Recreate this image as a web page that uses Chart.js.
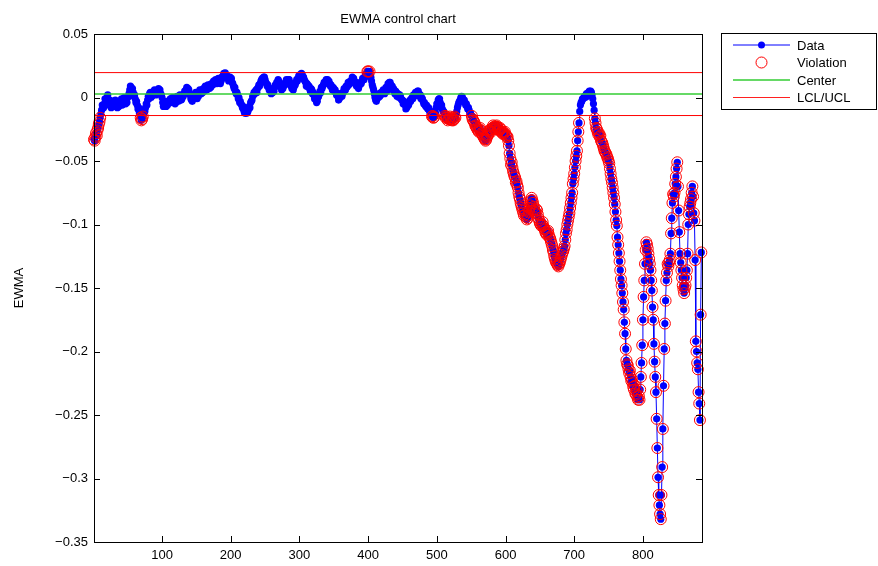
<!DOCTYPE html>
<html>
<head>
<meta charset="utf-8">
<script src="https://cdn.jsdelivr.net/npm/chart.js@4.4.1/dist/chart.umd.min.js"></script>
<style>
  html, body { margin: 0; padding: 0; background: #fff; }
  canvas { display: block; }
</style>
</head>
<body>
<canvas id="ewmaChart" width="878" height="566"></canvas>
<script>
// --- data (one value per sample, sample 1..885) ---
const ewma = [
  -0.033,-0.034,-0.031,-0.028,-0.030,-0.026,-0.024,-0.021,-0.019,-0.016,
  -0.013,-0.010,-0.006,-0.007,-0.008,-0.005,-0.001,-0.002,-0.004,0.000,
  0.002,-0.003,-0.006,-0.002,-0.005,-0.008,-0.004,-0.003,-0.007,-0.004,
  -0.006,-0.002,-0.005,-0.004,-0.008,-0.005,-0.007,-0.003,-0.006,-0.003,
  -0.001,-0.006,-0.005,-0.002,0.000,-0.001,-0.005,-0.002,-0.004,0.000,
  0.001,0.003,0.006,0.009,0.008,0.005,0.007,0.004,0.001,0.002,
  -0.001,-0.004,-0.003,-0.006,-0.009,-0.008,-0.012,-0.014,-0.016,-0.018,
  -0.017,-0.015,-0.013,-0.010,-0.011,-0.008,-0.005,-0.006,-0.002,0.001,
  -0.001,0.003,0.004,0.000,0.001,0.004,0.002,0.004,0.006,0.003,
  0.002,0.005,0.004,0.005,0.007,0.006,0.006,0.003,0.002,0.000,
  -0.004,-0.007,-0.005,-0.003,-0.004,-0.007,-0.005,-0.006,-0.003,-0.004,
  -0.002,-0.001,-0.004,-0.003,0.000,-0.002,0.000,-0.002,-0.005,-0.004,
  -0.002,0.001,-0.001,-0.003,0.000,0.002,0.001,-0.002,-0.001,0.002,
  0.001,0.003,0.005,0.004,0.006,0.008,0.005,0.007,0.006,0.003,
  0.002,-0.001,-0.002,-0.003,-0.001,0.002,0.000,0.002,0.004,0.002,
  -0.001,0.003,0.001,0.004,0.006,0.005,0.003,0.004,0.004,0.007,
  0.005,0.007,0.009,0.006,0.006,0.008,0.010,0.009,0.007,0.010,
  0.008,0.011,0.010,0.010,0.013,0.011,0.012,0.014,0.012,0.011,
  0.013,0.015,0.014,0.012,0.011,0.013,0.016,0.015,0.017,0.019,
  0.018,0.0195,0.018,0.016,0.017,0.015,0.013,0.014,0.016,0.014,
  0.015,0.012,0.011,0.009,0.007,0.008,0.005,0.003,0.004,0.002,
  -0.001,0.000,-0.004,-0.003,-0.005,-0.006,-0.008,-0.007,-0.010,-0.012,
  -0.011,-0.0125,-0.010,-0.012,-0.011,-0.009,-0.007,-0.008,-0.004,-0.003,
  -0.002,0.001,0.002,0.004,0.003,0.005,0.006,0.004,0.007,0.008,
  0.010,0.009,0.011,0.013,0.014,0.015,0.013,0.016,0.016,0.014,
  0.012,0.011,0.009,0.010,0.008,0.006,0.007,0.006,0.003,0.004,
  0.004,0.006,0.005,0.008,0.010,0.009,0.012,0.011,0.014,0.013,
  0.010,0.011,0.009,0.006,0.008,0.007,0.009,0.011,0.010,0.012,
  0.014,0.013,0.011,0.014,0.014,0.012,0.010,0.009,0.007,0.008,
  0.006,0.008,0.011,0.010,0.012,0.014,0.013,0.015,0.017,0.016,
  0.018,0.017,0.019,0.018,0.015,0.016,0.014,0.013,0.012,0.009,
  0.011,0.010,0.008,0.009,0.007,0.005,0.007,0.006,0.003,0.004,
  0.002,-0.001,0.000,-0.002,-0.004,-0.003,0.000,0.001,0.003,0.005,
  0.004,0.008,0.007,0.009,0.010,0.012,0.011,0.012,0.014,0.013,
  0.014,0.012,0.013,0.011,0.009,0.010,0.008,0.006,0.008,0.007,
  0.005,0.006,0.004,0.002,0.003,0.001,-0.002,-0.001,0.000,0.003,
  0.002,0.001,0.004,0.004,0.007,0.006,0.006,0.009,0.008,0.009,
  0.012,0.010,0.011,0.013,0.012,0.013,0.016,0.014,0.015,0.013,
  0.011,0.012,0.009,0.010,0.009,0.007,0.010,0.010,0.012,0.011,
  0.013,0.015,0.014,0.014,0.016,0.018,0.017,0.019,0.0205,0.0205,
  0.0195,0.0205,0.018,0.016,0.013,0.010,0.008,0.006,0.003,0.000,
  -0.002,-0.003,-0.001,0.001,0.000,0.003,0.001,0.002,0.004,0.003,
  0.004,0.006,0.004,0.003,0.006,0.008,0.005,0.008,0.011,0.010,
  0.012,0.012,0.010,0.008,0.009,0.006,0.007,0.005,0.003,0.005,
  0.004,0.001,0.003,0.002,0.000,0.002,0.001,-0.001,-0.002,-0.002,
  -0.005,-0.003,-0.004,-0.006,-0.009,-0.008,-0.007,-0.004,-0.006,-0.004,
  -0.002,-0.003,-0.001,0.000,-0.001,0.002,0.001,0.002,0.004,0.003,
  0.003,0.005,0.005,0.003,0.001,0.002,-0.001,0.000,-0.001,-0.003,
  -0.005,-0.004,-0.006,-0.007,-0.006,-0.008,-0.009,-0.008,-0.010,-0.012,
  -0.011,-0.013,-0.015,-0.0145,-0.016,-0.0155,-0.014,-0.012,-0.008,-0.005,
  -0.005,-0.002,-0.001,-0.001,-0.004,-0.006,-0.006,-0.009,-0.011,-0.011,
  -0.013,-0.0145,-0.016,-0.015,-0.016,-0.018,-0.017,-0.017,-0.015,-0.017,
  -0.0165,-0.018,-0.016,-0.018,-0.017,-0.015,-0.016,-0.013,-0.011,-0.008,
  -0.006,-0.004,-0.003,-0.002,0.000,0.001,0.0005,-0.001,-0.003,-0.002,
  -0.004,-0.006,-0.005,-0.007,-0.009,-0.008,-0.010,-0.012,-0.012,-0.014,
  -0.0145,-0.017,-0.018,-0.019,-0.020,-0.022,-0.023,-0.024,-0.025,-0.026,
  -0.027,-0.025,-0.024,-0.026,-0.028,-0.029,-0.030,-0.031,-0.032,-0.033,
  -0.034,-0.033,-0.031,-0.030,-0.029,-0.027,-0.026,-0.025,-0.027,-0.025,
  -0.024,-0.022,-0.023,-0.024,-0.025,-0.023,-0.022,-0.023,-0.024,-0.025,
  -0.026,-0.024,-0.025,-0.027,-0.028,-0.027,-0.029,-0.028,-0.027,-0.029,
  -0.030,-0.031,-0.031,-0.034,-0.038,-0.044,-0.048,-0.053,-0.051,-0.055,
  -0.058,-0.060,-0.062,-0.063,-0.067,-0.066,-0.069,-0.071,-0.075,-0.078,
  -0.080,-0.083,-0.085,-0.087,-0.089,-0.091,-0.093,-0.089,-0.092,-0.094,
  -0.096,-0.095,-0.093,-0.090,-0.087,-0.085,-0.081,-0.079,-0.081,-0.083,
  -0.086,-0.088,-0.090,-0.091,-0.088,-0.089,-0.092,-0.095,-0.097,-0.099,
  -0.100,-0.101,-0.100,-0.098,-0.101,-0.103,-0.104,-0.106,-0.107,-0.108,
  -0.106,-0.105,-0.108,-0.110,-0.111,-0.113,-0.115,-0.117,-0.120,-0.122,
  -0.125,-0.127,-0.129,-0.130,-0.131,-0.132,-0.133,-0.131,-0.130,-0.128,
  -0.126,-0.124,-0.122,-0.121,-0.119,-0.117,-0.112,-0.107,-0.104,-0.100,
  -0.097,-0.094,-0.091,-0.087,-0.083,-0.079,-0.075,-0.068,-0.064,-0.060,
  -0.055,-0.050,-0.046,-0.042,-0.034,-0.027,-0.020,-0.011,-0.006,-0.004,
  -0.003,-0.001,-0.001,0.000,0.001,0.000,0.002,0.003,0.001,0.003,
  0.004,0.005,0.0045,0.005,0.004,0.002,-0.001,-0.005,-0.010,-0.0165,
  -0.020,-0.024,-0.025,-0.027,-0.029,-0.028,-0.031,-0.030,-0.034,-0.035,
  -0.036,-0.038,-0.040,-0.042,-0.043,-0.044,-0.045,-0.047,-0.048,-0.050,
  -0.052,-0.056,-0.060,-0.064,-0.067,-0.071,-0.075,-0.079,-0.084,-0.090,
  -0.0965,-0.101,-0.110,-0.116,-0.1225,-0.129,-0.136,-0.143,-0.148,-0.154,
  -0.161,-0.167,-0.177,-0.186,-0.198,-0.207,-0.210,-0.211,-0.214,-0.217,
  -0.215,-0.220,-0.223,-0.222,-0.225,-0.228,-0.230,-0.227,-0.233,-0.234,
  -0.231,-0.236,-0.238,-0.235,-0.238,-0.230,-0.220,-0.209,-0.195,-0.175,
  -0.157,-0.144,-0.131,-0.120,-0.114,-0.116,-0.119,-0.123,-0.127,-0.131,
  -0.136,-0.144,-0.152,-0.165,-0.175,-0.194,-0.208,-0.220,-0.232,-0.253,
  -0.276,-0.299,-0.313,-0.321,-0.328,-0.332,-0.313,-0.291,-0.261,-0.227,
  -0.198,-0.178,-0.160,-0.144,-0.138,-0.131,-0.133,-0.130,-0.128,-0.123,
  -0.107,-0.095,-0.083,-0.076,-0.078,-0.075,-0.068,-0.0625,-0.056,-0.051,
  -0.070,-0.089,-0.106,-0.123,-0.130,-0.136,-0.142,-0.148,-0.151,-0.154,
  -0.150,-0.148,-0.142,-0.136,-0.123,-0.100,-0.092,-0.086,-0.083,-0.080,
  -0.075,-0.070,-0.078,-0.091,-0.097,-0.128,-0.192,-0.200,-0.209,-0.214,
  -0.232,-0.241,-0.254,-0.171,-0.122
];
const centerLine = 0.0027;
const lcl = -0.0142;
const ucl = 0.0196;
const xTicks = [100, 200, 300, 400, 500, 600, 700, 800];
const yTicks = [0.05, 0, -0.05, -0.1, -0.15, -0.2, -0.25, -0.3, -0.35];
const yTickLabels = ['0.05', '0', '\u22120.05', '\u22120.1', '\u22120.15', '\u22120.2', '\u22120.25', '\u22120.3', '\u22120.35'];
const legendNames = ['Data', 'Violation', 'Center', 'LCL/UCL'];

const X_MIN = 1, X_MAX = 886;
const FONT = '13px "Liberation Sans", Arial, Helvetica, sans-serif';

const points = ewma.map((v, i) => ({ x: i + 1, y: v }));
const violations = points.filter(p => p.y > ucl || p.y < lcl);
const hLine = v => [{ x: X_MIN, y: v }, { x: X_MAX, y: v }];

// frame, inward ticks, title, y label and legend box (matlab look)
const matlabFrame = {
    id: 'matlabFrame',
    afterDraw(chart) {
        const ctx = chart.ctx;
        const a = chart.chartArea;
        const xs = chart.scales.x, ys = chart.scales.y;
        ctx.save();
        ctx.strokeStyle = '#000';
        ctx.lineWidth = 1;
        ctx.strokeRect(Math.round(a.left) + 0.5, Math.round(a.top) + 0.5, Math.round(a.right - a.left), Math.round(a.bottom - a.top));
        ctx.beginPath();
        xTicks.forEach(v => {
            const px = Math.round(xs.getPixelForValue(v)) + 0.5;
            ctx.moveTo(px, a.bottom); ctx.lineTo(px, a.bottom - 6);
            ctx.moveTo(px, a.top); ctx.lineTo(px, a.top + 6);
        });
        yTicks.forEach(v => {
            const py = Math.round(ys.getPixelForValue(v)) + 0.5;
            ctx.moveTo(a.left, py); ctx.lineTo(a.left + 6, py);
            ctx.moveTo(a.right, py); ctx.lineTo(a.right - 6, py);
        });
        ctx.stroke();

        ctx.fillStyle = '#000';
        ctx.font = FONT;
        ctx.textAlign = 'center';
        ctx.textBaseline = 'middle';
        ctx.fillText('EWMA control chart', (a.left + a.right) / 2, 19);
        ctx.save();
        ctx.translate(19, (a.top + a.bottom) / 2);
        ctx.rotate(-Math.PI / 2);
        ctx.fillText('EWMA', 0, 0);
        ctx.restore();

        // legend
        const bx = 721.5, by = 33.5, bw = 155, bh = 76;
        ctx.fillStyle = '#fff';
        ctx.fillRect(bx, by, bw, bh);
        ctx.strokeStyle = '#000';
        ctx.strokeRect(bx, by, bw, bh);
        const rows = [45, 62.5, 80, 97.5];
        const x0 = 733, x1 = 790, xm = (x0 + x1) / 2;
        ctx.lineWidth = 1;
        ctx.strokeStyle = '#0000ff';
        ctx.beginPath(); ctx.moveTo(x0, rows[0]); ctx.lineTo(x1, rows[0]); ctx.stroke();
        ctx.fillStyle = '#0000ff';
        ctx.beginPath(); ctx.arc(xm, rows[0], 3.5, 0, Math.PI * 2); ctx.fill();
        ctx.strokeStyle = '#ff0000';
        ctx.beginPath(); ctx.arc(xm, rows[1], 5.5, 0, Math.PI * 2); ctx.stroke();
        ctx.strokeStyle = '#33cc33';
        ctx.lineWidth = 1.5;
        ctx.beginPath(); ctx.moveTo(x0, rows[2]); ctx.lineTo(x1, rows[2]); ctx.stroke();
        ctx.strokeStyle = '#ff2020';
        ctx.lineWidth = 1.2;
        ctx.beginPath(); ctx.moveTo(x0, rows[3]); ctx.lineTo(x1, rows[3]); ctx.stroke();
        ctx.fillStyle = '#000';
        ctx.textAlign = 'left';
        legendNames.forEach((n, i) => ctx.fillText(n, 797, rows[i] + 1));
        ctx.restore();
    }
};

const ctx = document.getElementById('ewmaChart').getContext('2d');
new Chart(ctx, {
    type: 'scatter',
    data: {
        datasets: [
            { label: 'Center', data: hLine(centerLine), showLine: true, borderColor: '#33cc33', borderWidth: 1.5, pointRadius: 0, order: 0 },
            { label: 'LCL', data: hLine(lcl), showLine: true, borderColor: '#ff0000', borderWidth: 1, pointRadius: 0, order: 0 },
            { label: 'UCL', data: hLine(ucl), showLine: true, borderColor: '#ff0000', borderWidth: 1, pointRadius: 0, order: 0 },
            { label: 'Violation', data: violations, showLine: false, pointStyle: 'circle', pointRadius: 5.5,
              pointBackgroundColor: 'rgba(0,0,0,0)', pointBorderColor: '#ff0000', pointBorderWidth: 1, order: 1, clip: false },
            { label: 'Data', data: points, showLine: true, borderColor: '#0000ff', borderWidth: 1, pointRadius: 3.6,
              pointBackgroundColor: '#0000ff', pointBorderWidth: 0, order: 2, clip: false }
        ]
    },
    options: {
        responsive: false,
        animation: false,
        devicePixelRatio: 1,
        layout: { padding: { left: 0, right: 176, top: 34, bottom: 0 } },
        plugins: { legend: { display: false }, tooltip: { enabled: false }, title: { display: false } },
        scales: {
            x: {
                type: 'linear', min: X_MIN, max: X_MAX,
                afterBuildTicks: s => { s.ticks = xTicks.map(v => ({ value: v })); },
                afterFit: s => { s.height = 24; },
                grid: { display: false, drawTicks: false },
                border: { display: false },
                ticks: { color: '#000', font: { family: '"Liberation Sans", Arial, sans-serif', size: 13 }, padding: 6, maxRotation: 0, autoSkip: false }
            },
            y: {
                type: 'linear', min: -0.35, max: 0.05,
                afterBuildTicks: s => { s.ticks = yTicks.map(v => ({ value: v })); },
                afterFit: s => { s.width = 94; },
                grid: { display: false, drawTicks: false },
                border: { display: false },
                ticks: {
                    color: '#000', font: { family: '"Liberation Sans", Arial, sans-serif', size: 13 }, padding: 6, autoSkip: false,
                    callback: v => yTickLabels[yTicks.findIndex(t => Math.abs(t - v) < 1e-9)]
                }
            }
        }
    },
    plugins: [matlabFrame]
});
</script>
</body>
</html>
